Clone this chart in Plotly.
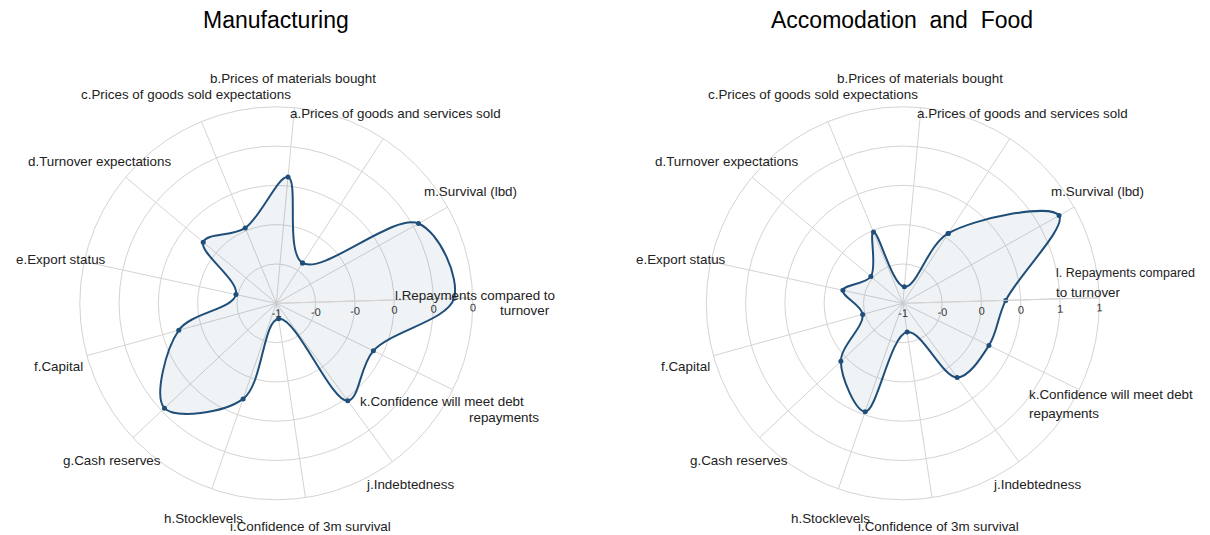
import plotly.graph_objects as go

W, H = 1210, 535

categories = [
    "a.Prices of goods and services sold",
    "b.Prices of materials bought",
    "c.Prices of goods sold expectations",
    "d.Turnover expectations",
    "e.Export status",
    "f.Capital",
    "g.Cash reserves",
    "h.Stocklevels",
    "i.Confidence of 3m survival",
    "j.Indebtedness",
    "k.Confidence will meet debt repayments",
    "l.Repayments compared to turnover",
    "m.Survival (lbd)",
]

manufacturing = [-0.51, 0.29, -0.17, -0.03, -0.58, 0.03, 0.56, 0.03, -0.84, 0.23, 0.10, 0.81, 0.66]
accommodation = [0.06, -0.79, -0.02, -0.47, -0.22, -0.47, 0.08, 0.46, -0.63, 0.17, 0.22, 0.31, 1.28]

left_tickvals = [-1, -0.6, -0.2, 0.2, 0.6, 1.0]
left_ticktext = ["-1", "-0", "-0", "0", "0", "0"]
right_tickvals = [-1, -0.5, 0, 0.5, 1.0, 1.5]
right_ticktext = ["-1", "-0", "0", "0", "1", "1"]

titles = ["Manufacturing", "Accomodation  and  Food"]

left_labels = [
    "b.Prices of materials bought", "c.Prices of goods sold expectations",
    "a.Prices of goods and services sold", "d.Turnover expectations",
    "m.Survival (lbd)", "e.Export status", "l.Repayments compared to", "turnover",
    "f.Capital", "k.Confidence will meet debt", "repayments", "g.Cash reserves",
    "j.Indebtedness", "h.Stocklevels", "i.Confidence of 3m survival",
]
right_labels = [
    "b.Prices of materials bought", "c.Prices of goods sold expectations",
    "a.Prices of goods and services sold", "d.Turnover expectations",
    "m.Survival (lbd)", "e.Export status", "l. Repayments compared", "to turnover",
    "f.Capital", "k.Confidence will meet debt", "repayments", "g.Cash reserves",
    "j.Indebtedness", "h.Stocklevels", "i.Confidence of 3m survival",
]

left_pos = [
    (293, 78, "center"), (186, 95, "center"), (395.5, 113, "center"), (99.5, 161, "center"),
    (470.5, 191, "center"), (60.5, 259, "center"), (474.5, 295, "center"), (525, 310, "center"),
    (58, 366, "center"), (442, 401, "center"), (503.5, 417, "center"), (112, 460, "center"),
    (410, 484, "center"), (203.5, 518, "center"), (310.5, 526, "center"),
]
right_pos = [
    (920, 78, "center"), (813, 95, "center"), (1022.5, 113, "center"), (726.5, 161, "center"),
    (1097.5, 191, "center"), (680.5, 259, "center"), (1054, 273, "left"), (1054, 292, "left"),
    (685, 366, "center"), (1027, 394, "left"), (1027, 413, "left"), (738.5, 460, "center"),
    (1037, 484, "center"), (830, 518, "center"), (938, 526, "center"),
]
right_sizes = [13.4] * 6 + [12.5, 13.4] + [13.4] * 7

LINE = "#1f4e79"
FILL = "rgba(31,78,121,0.07)"
GRID = "#d4d4d4"
FONT = "Liberation Sans, Arial, sans-serif"

# the page body adds an 8px offset; compensate so pixel targets match
OFF = 8

def px(x):
    return (x - OFF) / W

def py(y):
    return 1 - (y - OFF) / H

fig = go.Figure()
for name, vals, sub in [("Manufacturing", manufacturing, "polar"),
                        ("Accomodation and Food", accommodation, "polar2")]:
    fig.add_trace(go.Scatterpolar(
        r=vals + [vals[0]], theta=categories + [categories[0]],
        mode="lines+markers", fill="toself", fillcolor=FILL,
        line=dict(color=LINE, width=2, shape="spline", smoothing=1.0),
        marker=dict(color=LINE, size=5),
        name=name, subplot=sub, showlegend=False,
    ))

R = 196.5
cy = 303.3

def dom(cx):
    return dict(x=[px(cx - R), px(cx + R)], y=[py(cy + R), py(cy - R)])

rot = 57.0
rad_angle = rot - 360 * 2 / 13

def polar_cfg(cx, tv, tt):
    return dict(
        domain=dom(cx),
        bgcolor="white",
        angularaxis=dict(type="category", categoryarray=categories, rotation=rot,
                         direction="counterclockwise", showticklabels=False, ticks="",
                         gridcolor=GRID, linecolor=GRID, showline=True),
        radialaxis=dict(range=[tv[0], tv[-1]], tickvals=tv, ticktext=tt, angle=rad_angle,
                        tickangle=0, gridcolor=GRID, linecolor=GRID, showline=True,
                        ticks="", tickfont=dict(size=11, color="#333", family=FONT)),
    )

annotations = []
for t, cx in zip(titles, [276.3, 902]):
    annotations.append(dict(text=t, x=px(cx), y=py(20), xref="paper", yref="paper",
                            showarrow=False, xanchor="center", yanchor="middle",
                            font=dict(size=23, color="black", family=FONT)))
for labels, pos, sizes in [(left_labels, left_pos, [13.4] * 15),
                           (right_labels, right_pos, right_sizes)]:
    for txt, (x, y, anc), sz in zip(labels, pos, sizes):
        annotations.append(dict(text=txt, x=px(x), y=py(y), xref="paper", yref="paper",
                                showarrow=False, xanchor=anc, yanchor="middle",
                                font=dict(size=sz, color="#222", family=FONT)))

fig.update_layout(
    width=W, height=H, margin=dict(l=0, r=0, t=0, b=0),
    paper_bgcolor="white", plot_bgcolor="white",
    polar=polar_cfg(276.3, left_tickvals, left_ticktext),
    polar2=polar_cfg(902.8, right_tickvals, right_ticktext),
    annotations=annotations,
    font=dict(family=FONT),
)

fig.write_html("out.html")
